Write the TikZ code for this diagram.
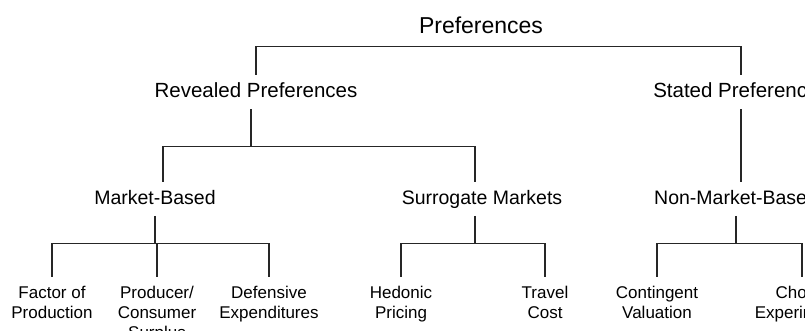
\documentclass[tikz,border=0pt]{standalone}
\usepackage{fontspec}
\setmainfont{Liberation Sans}
\usepackage{tikz}

\begin{document}
\begin{tikzpicture}[
            x=1pt, y=-1pt,
            root/.style={font=\fontsize{23}{27}\selectfont, inner sep=0pt},
            method/.style={font=\fontsize{20.5}{24}\selectfont, text height=15pt, text depth=4pt, inner xsep=0pt, inner ysep=7.5pt},
            approach/.style={font=\fontsize{19.5}{23}\selectfont, text height=14.5pt, text depth=4pt, inner xsep=0pt, inner ysep=7.5pt},
            technique/.style={font=\fontsize{17}{20}\selectfont, align=center, anchor=north, inner xsep=0pt, inner ysep=9pt},
            branch/.style={line width=1.4pt, black!85}
        ]

        \useasboundingbox (0,0) rectangle (805,331);
        \clip (0,0) rectangle (805,331);

        \node[root] (pref) at (481,25) {Preferences};

        \node[method] (revealed) at (256,92) {Revealed Preferences};
        \node[method] (stated) at (741,92) {Stated Preferences};

        \node[approach] (market) at (155,199) {Market-Based};
        \node[approach] (surrogate) at (482,199) {Surrogate Markets};
        \node[approach] (nonmarket) at (736,199) {Non-Market-Based};

        \node[technique] (factor) at (52,277) {Factor of\\Production};
        \node[technique] (surplus) at (157,277) {Producer/\\Consumer\\Surplus};
        \node[technique] (defensive) at (269,277) {Defensive\\Expenditures};
        \node[technique] (hedonic) at (401,277) {Hedonic\\Pricing};
        \node[technique] (travel) at (545,277) {Travel\\Cost};
        \node[technique] (contingent) at (657,277) {Contingent\\Valuation};
        \node[technique] (choice) at (802,277) {Choice\\Experiments};

        % top level
        \draw[branch] (revealed.north) -- ++(0,-28) -| (stated.north);

        % revealed preferences
        \draw[branch] ([xshift=-5pt]revealed.south) -- ++(0,37.5) coordinate (revbus);
        \draw[branch] (revbus) -| ([xshift=8pt]market.north);
        \draw[branch] (revbus) -| ([xshift=-7pt]surrogate.north);

        % stated preferences
        \draw[branch] (stated.south) -- (stated.south |- nonmarket.north);

        % market-based
        \draw[branch] (market.south) -- ++(0,27.5) coordinate (mktbus);
        \draw[branch] (mktbus) -| (factor.north);
        \draw[branch] (mktbus) -| (surplus.north);
        \draw[branch] (mktbus) -| (defensive.north);

        % surrogate markets
        \draw[branch] ([xshift=-7pt]surrogate.south) -- ++(0,27.5) coordinate (surbus);
        \draw[branch] (surbus) -| (hedonic.north);
        \draw[branch] (surbus) -| (travel.north);

        % non-market-based
        \draw[branch] (nonmarket.south) -- ++(0,27.5) coordinate (nmbus);
        \draw[branch] (nmbus) -| (contingent.north);
        \draw[branch] (nmbus) -| (choice.north);

    \end{tikzpicture}
\end{document}
